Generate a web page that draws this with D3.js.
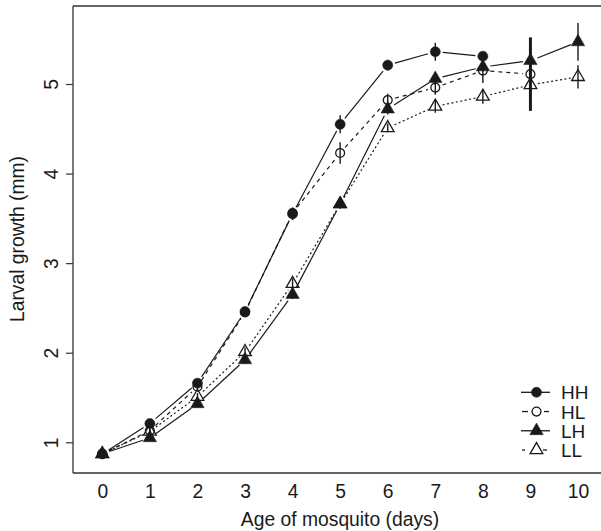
<!DOCTYPE html>
<html>
<head>
<meta charset="utf-8">
<script src="https://cdn.jsdelivr.net/npm/d3@7"></script>
<style>
html,body{margin:0;padding:0;background:#fff;}
svg{display:block;font-family:"Liberation Sans",Arial,Helvetica,sans-serif;}
</style>
</head>
<body>
<svg id="chart" width="601" height="531"></svg>
<script>
const days = [0,1,2,3,4,5,6,7,8,9,10];
const xTicks = [0,1,2,3,4,5,6,7,8,9,10];
const yTicks = [1,2,3,4,5];
const seriesNames = ["HH","HL","LH","LL"];
const HH    = [0.87,1.21,1.66,2.46,3.55,4.55,5.21,5.36,5.31,null,null];
const HH_se = [0.02,0.03,0.03,0.03,0.07,0.10,0.06,0.10,0.04,null,null];
const HL    = [0.87,1.13,1.62,2.45,3.56,4.23,4.82,4.96,5.15,5.11,null];
const HL_se = [0.02,0.03,0.04,0.03,0.06,0.12,0.07,0.08,0.14,0.41,null];
const LH    = [0.87,1.05,1.43,1.92,2.65,3.66,4.72,5.06,5.19,5.26,5.47];
const LH_se = [0.02,0.02,0.03,0.04,0.05,0.05,0.06,0.07,0.05,0.06,0.21];
const LL    = [0.87,1.12,1.51,2.01,2.77,3.66,4.51,4.75,4.86,4.99,5.08];
const LL_se = [0.02,0.03,0.04,0.05,0.06,0.05,0.05,0.07,0.08,0.06,0.13];

const series = [
  {name:"HH", vals:HH, se:HH_se, sym:d3.symbolCircle, filled:true, dash:null, lg:[[521,550]]},
  {name:"HL", vals:HL, se:HL_se, sym:d3.symbolCircle, filled:false, dash:"4,4", lg:[[522,528],[544,549]]},
  {name:"LH", vals:LH, se:LH_se, sym:d3.symbolTriangle, filled:true, dash:null, lg:[[521,550]]},
  {name:"LL", vals:LL, se:LL_se, sym:d3.symbolTriangle, filled:false, dash:"2,2.5", lg:[[522,525],[543,547]]}
];

const svg = d3.select("#chart");
const pLeft = 73, pTop = 6, pBottom = 473, pRight = 601;
const x = d3.scaleLinear().domain([0,10]).range([102.3,578]);
const y = d3.scaleLinear().domain([1,5]).range([442.3,84]);
const ink = "#1a1a1a";
const fs = "19.3px";

svg.append("line").attr("x1",pLeft).attr("x2",pRight).attr("y1",pTop).attr("y2",pTop).attr("stroke","#333").attr("stroke-width",1.3);
svg.append("line").attr("x1",pLeft).attr("x2",pRight).attr("y1",pBottom).attr("y2",pBottom).attr("stroke","#333").attr("stroke-width",1.3);

const yAx = svg.append("g").attr("transform",`translate(${pLeft},0)`)
  .call(d3.axisLeft(y).tickValues(yTicks).tickSize(7).tickFormat(d3.format("d")));
yAx.select(".domain").attr("d",`M0,${pTop}V${pBottom}`).attr("stroke","#333").attr("stroke-width",1.3);
yAx.selectAll(".tick line").attr("stroke","#333").attr("stroke-width",1.2);
yAx.selectAll(".tick text")
  .attr("x",null).attr("dy",null)
  .attr("transform","translate(-15,0) rotate(-90)")
  .attr("text-anchor","middle")
  .attr("font-size",fs).attr("font-family","Liberation Sans, Arial, sans-serif").attr("fill",ink);

const xAx = svg.append("g").attr("transform",`translate(0,${pBottom})`)
  .call(d3.axisBottom(x).tickValues(xTicks).tickSize(0).tickFormat(d3.format("d")));
xAx.select(".domain").remove();
xAx.selectAll(".tick text").attr("y",25).attr("dy",null)
  .attr("font-size",fs).attr("font-family","Liberation Sans, Arial, sans-serif").attr("fill",ink);

svg.append("text").attr("x",340).attr("y",526).attr("text-anchor","middle")
  .attr("font-size",fs).attr("fill",ink).text("Age of mosquito (days)");
svg.append("text").attr("transform","translate(24,239) rotate(-90)").attr("text-anchor","middle")
  .attr("font-size",fs).attr("fill",ink).text("Larval growth (mm)");

const gap = 7.5;
const plot = svg.append("g");
const symSize = s => s.sym===d3.symbolCircle?(s.filled?80:62):(s.filled?78:70);

series.forEach(s => {
  const pts = days.map((d,i)=>({d, v:s.vals[i], se:s.se[i]})).filter(p=>p.v!=null);
  const g = plot.append("g");
  for (let i=0;i<pts.length-1;i++){
    const x1=x(pts[i].d), y1=y(pts[i].v), x2=x(pts[i+1].d), y2=y(pts[i+1].v);
    const L=Math.hypot(x2-x1,y2-y1);
    if (L<=2*gap) continue;
    const ux=(x2-x1)/L, uy=(y2-y1)/L;
    g.append("line")
      .attr("x1",x1+ux*gap).attr("y1",y1+uy*gap)
      .attr("x2",x2-ux*gap).attr("y2",y2-uy*gap)
      .attr("stroke",ink).attr("stroke-width",1.2)
      .attr("stroke-dasharray",s.dash);
  }
  g.selectAll("path.pt").data(pts).join("path").attr("class","pt")
    .attr("transform",p=>`translate(${x(p.d)},${y(p.v)})`)
    .attr("d",d3.symbol().type(s.sym).size(symSize(s)))
    .attr("fill",s.filled?ink:"none")
    .attr("stroke",ink).attr("stroke-width",s.filled?0.5:1.3);
  g.selectAll("line.err").data(pts).join("line").attr("class","err")
    .attr("x1",p=>x(p.d)).attr("x2",p=>x(p.d))
    .attr("y1",p=>y(p.v+p.se)).attr("y2",p=>y(p.v-p.se))
    .attr("stroke",ink).attr("stroke-width",p=>p.se>0.3?3:1.4);
});

const lg = svg.append("g");
const rowY = d3.scaleLinear().domain([0,3]).range([392.3,450]);
series.forEach((s,i)=>{
  const yy = rowY(i);
  s.lg.forEach(seg=>{
    lg.append("line").attr("x1",seg[0]).attr("x2",seg[1]).attr("y1",yy).attr("y2",yy)
      .attr("stroke",ink).attr("stroke-width",1.3);
  });
  lg.append("path").attr("transform",`translate(536.5,${yy})`)
    .attr("d",d3.symbol().type(s.sym).size(symSize(s)))
    .attr("fill",s.filled?ink:"none").attr("stroke",ink).attr("stroke-width",s.filled?0.5:1.3);
  lg.append("text").attr("x",561).attr("y",yy+7).attr("font-size","19px").attr("fill",ink).text(seriesNames[i]);
});
</script>
</body>
</html>
